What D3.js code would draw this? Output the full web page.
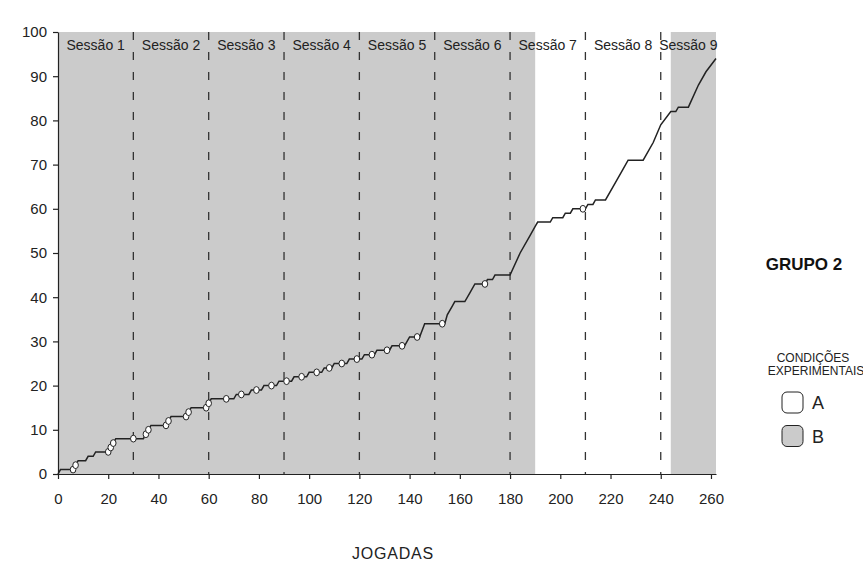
<!DOCTYPE html>
<html>
<head>
<meta charset="utf-8">
<script src="https://cdn.jsdelivr.net/npm/d3@7"></script>
<style>
  body { margin: 0; background: #ffffff; }
  .axis text { font-family: "Liberation Sans", Arial, sans-serif; font-size: 15px; fill: #222; }
  .axis path, .axis line { stroke: #222; stroke-width: 1.2; }
</style>
</head>
<body>
<div id="svg-container"></div>
<script>
// establish variables
var svgWidth  = 863;
var svgHeight = 561;

// cumulative curve, [jogada, total]
var curve = [
  [0, 0], [1, 1], [6, 1], [7, 2], [8, 3], [11, 3], [12, 4], [14, 4], [15, 5], [20, 5],
  [21, 6], [22, 7], [23, 8], [34, 8], [35, 9], [36, 10], [37, 11], [43, 11], [44, 12],
  [45, 13], [51, 13], [52, 14], [53, 15], [59, 15], [60, 16], [61, 17], [70, 17], [71, 18],
  [76, 18], [77, 19], [81, 19], [82, 20], [87, 20], [88, 21], [93, 21], [94, 22], [99, 22],
  [100, 23], [105, 23], [106, 24], [109, 24], [110, 25], [115, 25], [116, 26], [121, 26],
  [122, 27], [126, 27], [127, 28], [132, 28], [133, 29], [138, 29], [139, 30], [140, 31],
  [144, 31], [146, 34], [154, 34], [155, 36], [157, 38], [158, 39], [162, 39], [164, 41],
  [166, 43], [170, 43], [171, 44], [173, 44], [174, 45], [180, 45], [184, 50], [188, 54],
  [190, 56], [191, 57], [196, 57], [197, 58], [201, 58], [202, 59], [204, 59], [205, 60],
  [210, 60], [211, 61], [213, 61], [214, 62], [218, 62], [222, 66], [225, 69], [227, 71],
  [233, 71], [237, 75], [240, 79], [244, 82], [246, 82], [247, 83], [251, 83], [255, 88],
  [258, 91], [262, 94]
];

// open circles on the curve
var markers = [
  [6, 1], [7, 2], [20, 5], [21, 6], [22, 7], [30, 8], [35, 9], [36, 10], [43, 11], [44, 12],
  [51, 13], [52, 14], [59, 15], [60, 16], [67, 17], [73, 18], [79, 19], [85, 20], [91, 21],
  [97, 22], [103, 23], [108, 24], [113, 25], [119, 26], [125, 27], [131, 28], [137, 29],
  [143, 31], [153, 34], [170, 43], [209, 60]
];

// sessions and condition B (grey) stretches
var sessionBreaks = [30, 60, 90, 120, 150, 180, 210, 240];
var sessionNames  = ["Sessão 1", "Sessão 2", "Sessão 3", "Sessão 4", "Sessão 5",
                     "Sessão 6", "Sessão 7", "Sessão 8", "Sessão 9"];
var sessionBounds = [0, 30, 60, 90, 120, 150, 180, 210, 240, 262];
var greyBlocks    = [[0, 190], [244, 262]];

var xTicks = [0, 20, 40, 60, 80, 100, 120, 140, 160, 180, 200, 220, 240, 260];
var yTicks = [0, 10, 20, 30, 40, 50, 60, 70, 80, 90, 100];
var legendItems = ["A", "B"];

// scales
var xScale = d3.scaleLinear().domain([0, 262]).range([58, 716]);
var yScale = d3.scaleLinear().domain([0, 100]).range([474, 32]);

var svg = d3.select("#svg-container")
  .append("svg")
  .attr("width", svgWidth)
  .attr("height", svgHeight);

svg.append("rect")
  .attr("width", svgWidth)
  .attr("height", svgHeight)
  .style("fill", "#ffffff");

// grey background for condition B
svg.selectAll("rect.block")
  .data(greyBlocks)
  .enter()
    .append("rect")
    .attr("class", "block")
    .attr("x", function(d) { return xScale(d[0]); })
    .attr("y", yScale(100))
    .attr("width", function(d) { return xScale(d[1]) - xScale(d[0]); })
    .attr("height", yScale(0) - yScale(100))
    .style("fill", "#cbcbcb");

// dashed session dividers
svg.selectAll("line.session")
  .data(sessionBreaks)
  .enter()
    .append("line")
    .attr("class", "session")
    .attr("x1", function(d) { return xScale(d); })
    .attr("x2", function(d) { return xScale(d); })
    .attr("y1", yScale(100))
    .attr("y2", yScale(0))
    .style("stroke", "#333")
    .style("stroke-width", 1.3)
    .style("stroke-dasharray", "8,12");

// session labels
svg.selectAll("text.session")
  .data(sessionNames)
  .enter()
    .append("text")
    .attr("class", "session")
    .attr("x", function(d, i) { return xScale((sessionBounds[i] + sessionBounds[i + 1]) / 2); })
    .attr("y", 50)
    .attr("text-anchor", "middle")
    .attr("font-family", "Liberation Sans, Arial, sans-serif")
    .attr("font-size", "14px")
    .attr("fill", "#222")
    .text(function(d) { return d; });

// axes
svg.append("g")
  .attr("class", "axis")
  .attr("transform", "translate(58,0)")
  .call(d3.axisLeft(yScale).tickValues(yTicks).tickSize(5).tickSizeOuter(0).tickPadding(6));

svg.append("g")
  .attr("class", "axis")
  .attr("transform", "translate(0,474)")
  .call(d3.axisBottom(xScale).tickValues(xTicks).tickSize(5).tickSizeOuter(0).tickPadding(14));

// cumulative line
var line = d3.line()
  .x(function(d) { return xScale(d[0]); })
  .y(function(d) { return yScale(d[1]); });

svg.append("path")
  .datum(curve)
  .attr("d", line)
  .style("fill", "none")
  .style("stroke", "#222")
  .style("stroke-width", 1.5);

// markers
svg.selectAll("ellipse.mark")
  .data(markers)
  .enter()
    .append("ellipse")
    .attr("class", "mark")
    .attr("cx", function(d) { return xScale(d[0]); })
    .attr("cy", function(d) { return yScale(d[1]); })
    .attr("rx", 2.8)
    .attr("ry", 3.4)
    .style("fill", "#ffffff")
    .style("stroke", "#222")
    .style("stroke-width", 1);

// x axis title
svg.append("text")
  .attr("x", 393)
  .attr("y", 559)
  .attr("text-anchor", "middle")
  .attr("font-family", "Liberation Sans, Arial, sans-serif")
  .attr("font-size", "16px")
  .attr("letter-spacing", "0.8px")
  .attr("fill", "#222")
  .text("JOGADAS");

// group title and legend
svg.append("text")
  .attr("x", 804)
  .attr("y", 270)
  .attr("text-anchor", "middle")
  .attr("font-family", "Liberation Sans, Arial, sans-serif")
  .attr("font-size", "17px")
  .style("font-weight", "bold")
  .attr("fill", "#111")
  .text("GRUPO 2");

svg.append("text")
  .attr("x", 813)
  .attr("y", 362)
  .attr("text-anchor", "middle")
  .attr("font-family", "Liberation Sans, Arial, sans-serif")
  .attr("font-size", "12px")
  .attr("fill", "#222")
  .text("CONDIÇÕES");

svg.append("text")
  .attr("x", 816)
  .attr("y", 375)
  .attr("text-anchor", "middle")
  .attr("font-family", "Liberation Sans, Arial, sans-serif")
  .attr("font-size", "12px")
  .attr("fill", "#222")
  .text("EXPERIMENTAIS");

var legend = svg.selectAll("g.legend")
  .data(legendItems)
  .enter()
    .append("g")
    .attr("class", "legend")
    .attr("transform", function(d, i) { return "translate(782," + (392 + i * 33.5) + ")"; });

legend.append("rect")
  .attr("width", 21)
  .attr("height", 21)
  .attr("rx", 5)
  .style("fill", function(d, i) { return i === 0 ? "#ffffff" : "#cbcbcb"; })
  .style("stroke", "#222")
  .style("stroke-width", 1);

legend.append("text")
  .attr("x", 30)
  .attr("y", 17)
  .attr("font-family", "Liberation Sans, Arial, sans-serif")
  .attr("font-size", "18px")
  .attr("fill", "#222")
  .text(function(d) { return d; });
</script>
</body>
</html>
